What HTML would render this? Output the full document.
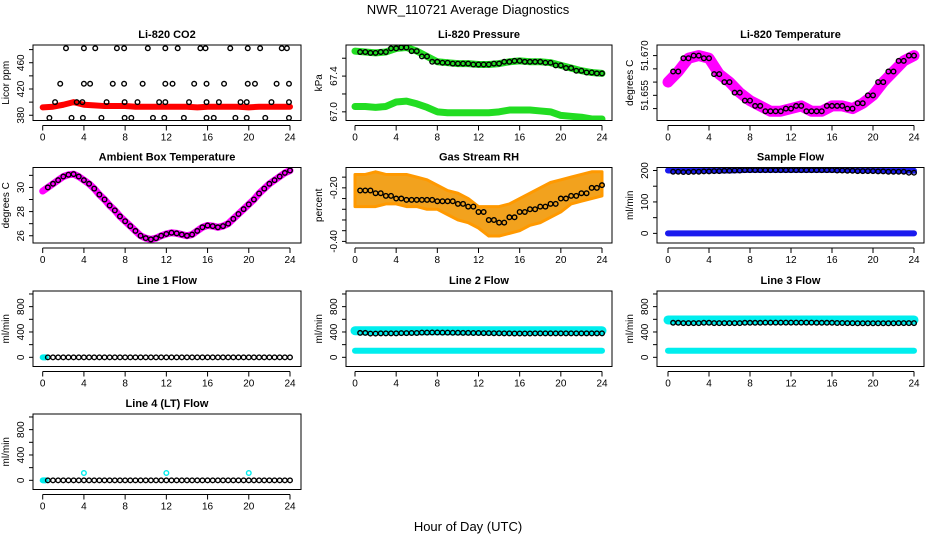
<!DOCTYPE html>
<html><head><meta charset="utf-8">
<style>
html,body{margin:0;padding:0;background:#fff;}
svg{display:block;font-family:"Liberation Sans",sans-serif;}
</style></head>
<body>
<svg id="chart" width="936" height="540" viewBox="0 0 936 540" xmlns="http://www.w3.org/2000/svg">
<text x="468" y="14" text-anchor="middle" font-size="13">NWR_110721  Average Diagnostics</text>
<text x="468" y="531" text-anchor="middle" font-size="13">Hour of Day (UTC)</text>
</svg>
<script>
// ---------- data ----------
const halfHours = [0,0.5,1,1.5,2,2.5,3,3.5,4,4.5,5,5.5,6,6.5,7,7.5,8,8.5,9,9.5,10,10.5,11,11.5,12,12.5,13,13.5,14,14.5,15,15.5,16,16.5,17,17.5,18,18.5,19,19.5,20,20.5,21,21.5,22,22.5,23,23.5,24];
const hours = [0,1,2,3,4,5,6,7,8,9,10,11,12,13,14,15,16,17,18,19,20,21,22,23,24];
const xTicks = [0,4,8,12,16,20,24];

const co2Band = [392,393,396,400,396,395,394,394,394,393,393,393,393,393,393,392,393,393,393,393,392,393,393,393,393];
const co2HighHours = [2.26,4.0,5.1,7.2,7.9,10.2,11.9,13.1,15.3,15.8,18.2,19.9,21.1,23.2,23.7];
const co2MidHours = [1.7,4.0,4.6,6.8,7.9,9.7,11.9,12.6,14.7,15.9,17.6,19.9,20.6,22.7,23.9];
const co2LowHours = [1.2,3.3,3.85,6.2,7.95,9.2,11.3,11.9,14.2,15.9,17.1,19.2,19.8,22.2,23.9];
const co2MinHours = [0.65,2.8,3.9,5.7,7.95,8.6,10.7,11.8,13.7,15.9,16.6,18.7,19.8,21.6,23.9];
const co2Levels = [482,428,400,376];

const pressUpper = [67.68,67.67,67.66,67.67,67.71,67.72,67.68,67.62,67.56,67.55,67.54,67.54,67.53,67.53,67.54,67.56,67.57,67.56,67.56,67.55,67.52,67.49,67.46,67.44,67.43];
const pressLower = [67.06,67.06,67.05,67.06,67.11,67.12,67.09,67.05,67.00,66.99,66.99,66.99,66.99,66.99,67.00,67.02,67.02,67.02,67.01,67.00,66.96,66.95,66.94,66.92,66.92];

const licorTemp = [51.660,51.664,51.669,51.670,51.669,51.663,51.660,51.656,51.653,51.651,51.649,51.649,51.650,51.651,51.649,51.649,51.651,51.651,51.650,51.652,51.655,51.660,51.664,51.668,51.670];

const ambientTemp = [29.7,30.0,30.3,30.6,30.9,31.05,31.1,30.9,30.6,30.3,29.9,29.4,29.0,28.5,28.1,27.6,27.2,26.8,26.4,26.0,25.8,25.7,25.8,26.0,26.15,26.25,26.2,26.1,26.0,26.1,26.4,26.7,26.85,26.8,26.7,26.8,27.0,27.4,27.8,28.2,28.6,29.0,29.5,29.9,30.3,30.6,30.9,31.2,31.4];

const rhMean = [-0.21,-0.21,-0.22,-0.23,-0.24,-0.245,-0.245,-0.245,-0.25,-0.25,-0.26,-0.27,-0.29,-0.32,-0.33,-0.31,-0.29,-0.28,-0.27,-0.26,-0.24,-0.23,-0.22,-0.20,-0.19];
const rhUpper = [-0.15,-0.15,-0.14,-0.15,-0.15,-0.15,-0.16,-0.17,-0.19,-0.21,-0.22,-0.24,-0.27,-0.27,-0.27,-0.26,-0.24,-0.22,-0.20,-0.18,-0.17,-0.16,-0.15,-0.14,-0.14];
const rhLower = [-0.27,-0.27,-0.27,-0.26,-0.26,-0.27,-0.27,-0.28,-0.28,-0.30,-0.32,-0.33,-0.35,-0.38,-0.38,-0.37,-0.36,-0.34,-0.33,-0.31,-0.29,-0.26,-0.25,-0.24,-0.23];

const sampleHigh = [200,200,200,200,200,200,200,201,202,202,202,202,202,202,202,202,202,202,202,201,201,200,200,200,199];
const sampleBlack = [197,196,195,196,197,198,199,200,201,201,201,201,201,201,201,201,201,200,199,198,198,197,196,196,193];
const sampleLow = [0,0,0,0,0,0,0,0,0,0,0,0,0,0,0,0,0,0,0,0,0,0,0,0,0];

const line1Flow = [0,0,0,0,0,0,0,0,0,0,0,0,0,0,0,0,0,0,0,0,0,0,0,0,0];
const line2High = [420,420,420,420,420,420,420,420,420,420,420,420,420,420,420,420,420,420,420,420,420,420,420,420,420];
const line2Black = [380,385,375,378,378,382,384,390,392,390,388,386,384,382,380,378,376,376,378,378,378,378,378,378,378];
const line2Low = [104,104,104,104,104,104,104,104,104,104,104,104,104,104,104,104,104,104,104,104,104,104,104,104,104];
const line3High = [590,590,590,590,590,590,590,590,590,590,590,590,590,590,590,590,590,590,590,590,590,590,590,590,590];
const line3Black = [540,545,540,540,545,540,540,540,545,545,548,548,548,548,548,545,545,542,540,538,538,538,538,540,540];
const line3Low = [104,104,104,104,104,104,104,104,104,104,104,104,104,104,104,104,104,104,104,104,104,104,104,104,104];
const line4Flow = [0,0,0,0,0,0,0,0,0,0,0,0,0,0,0,0,0,0,0,0,0,0,0,0,0];
const line4SpikeHours = [4,12,20];
const line4SpikeVals = [115,115,115];

// ---------- helpers ----------
const svg = document.getElementById('chart');
const NS = 'http://www.w3.org/2000/svg';
function mk(tag, attrs, parent){ const e=document.createElementNS(NS,tag); for(const k in attrs) e.setAttribute(k,attrs[k]); (parent||svg).appendChild(e); return e; }

const colLeft=[33,346,657], colRight=[301,612,924], colX0=[42.7,355,668], colX24=[290,602,914];
const rowTop=[45,167.5,291,414], H=75.5;

function panel(cfg){
  const c=cfg.col, r=cfg.row;
  const L=colLeft[c], R=colRight[c], T=rowTop[r], B=T+H;
  const g=mk('g',{});
  
  
  const xs=h=>colX0[c]+(colX24[c]-colX0[c])*h/24;
  const ys=v=>B-(v-cfg.ymin)/(cfg.ymax-cfg.ymin)*H;
  const t=mk('text',{x:(L+R)/2,y:T-7,'text-anchor':'middle','font-size':11,'font-weight':'bold'},g);
  t.textContent=cfg.title;
  
  
  const clip=mk('clipPath',{id:'clip'+c+r},g);
  mk('rect',{x:L,y:T,width:R-L,height:H},clip);
  const plot=mk('g',{'clip-path':'url(#clip'+c+r+')'},g);
  
  
  cfg.draw(plot,xs,ys);
  const box=mk('rect',{x:L,y:T,width:R-L,height:H,fill:'none',stroke:'#000','stroke-width':1},g);
  
  
  const xa=mk('g',{},g);
  
  
  mk('line',{x1:xs(0),x2:xs(24),y1:B+5,y2:B+5,stroke:'#000'},xa);
  xTicks.forEach(h=>{
    mk('line',{x1:xs(h),x2:xs(h),y1:B+5,y2:B+10,stroke:'#000'},xa);
    if(cfg.xlabels){ const tl=mk('text',{x:xs(h),y:B+20,'text-anchor':'middle','font-size':10},xa); tl.textContent=h;
      
       }
  });
  const ya=mk('g',{},g);
  
  
  mk('line',{x1:L,x2:L,y1:ys(cfg.ticks[0]),y2:ys(cfg.ticks[cfg.ticks.length-1]),stroke:'#000'},ya);
  cfg.ticks.forEach(v=>mk('line',{x1:L-4,x2:L,y1:ys(v),y2:ys(v),stroke:'#000'},ya));
  cfg.labels.forEach((lab,i)=>{
    const y=ys(cfg.labelVals[i]);
    const tl=mk('text',{x:L-9,y:y,'text-anchor':'middle','font-size':10,transform:'rotate(-90 '+(L-9)+' '+y+')'},ya);
    tl.textContent=lab;
    
    
  });
  const yt=mk('text',{x:L-24,y:(T+B)/2,'text-anchor':'middle','font-size':10,transform:'rotate(-90 '+(L-24)+' '+((T+B)/2)+')'},g);
  yt.textContent=cfg.ytitle;
  
  
}
function band(p,xs,ys,hx,vals,color,w,name){
  const pl=mk('polyline',{points:hx.map((h,i)=>xs(h)+','+ys(vals[i])).join(' '),fill:'none',stroke:color,'stroke-width':w,'stroke-linejoin':'round','stroke-linecap':'round'},p);
  
  
}
function circles(p,xs,ys,hx,vals,color,name,start){
  hx.forEach((h,i)=>{ if(start!==undefined && h<start) return;
    const ci=mk('circle',{cx:xs(h),cy:ys(vals[i]),r:2.3,fill:'none',stroke:color||'#000','stroke-width':1.4},p);
    
    
  });
}
function hourlyAt(arr){ return halfHours.map(h=>arr[Math.round(h)]); }

const flowTicks=[0,200,400,600,800,1000];

panel({name:'co2-panel',col:0,row:0,title:'Li-820 CO2',ytitle:'Licor ppm',ymin:372,ymax:487,ticks:[380,400,420,440,460,480],labels:['380','420','460'],labelVals:[380,420,460],xlabels:true,
 draw:(p,xs,ys)=>{ band(p,xs,ys,hours,co2Band,'#ff0000',6,'co2-band');
   [co2HighHours,co2MidHours,co2LowHours,co2MinHours].forEach((hh,k)=>circles(p,xs,ys,hh,hh.map(()=>co2Levels[k]),'#000','co2-point'));}});
panel({name:'pressure-panel',col:1,row:0,title:'Li-820 Pressure',ytitle:'kPa',ymin:66.903,ymax:67.748,ticks:[67.0,67.2,67.4,67.6],labels:['67.0','67.4'],labelVals:[67.0,67.4],xlabels:true,
 draw:(p,xs,ys)=>{ band(p,xs,ys,hours,pressUpper,'#22dd22',7,'pressure-band-upper'); band(p,xs,ys,hours,pressLower,'#22dd22',7,'pressure-band-lower');
   circles(p,xs,ys,halfHours,hourlyAt(pressUpper),'#000','pressure-point',0.5);}});
panel({name:'licor-temp-panel',col:2,row:0,title:'Li-820 Temperature',ytitle:'degrees C',ymin:51.6455,ymax:51.674,ticks:[51.650,51.655,51.660,51.665,51.670],labels:['51.655','51.670'],labelVals:[51.655,51.670],xlabels:true,
 draw:(p,xs,ys)=>{ band(p,xs,ys,hours,licorTemp,'#ff00ff',11,'licor-temp-band');
   circles(p,xs,ys,halfHours,hourlyAt(licorTemp),'#000','licor-temp-point',0.5);}});
panel({name:'ambient-temp-panel',col:0,row:1,title:'Ambient Box Temperature',ytitle:'degrees C',ymin:25.4,ymax:31.65,ticks:[26,27,28,29,30,31],labels:['26','28','30'],labelVals:[26,28,30],xlabels:true,
 draw:(p,xs,ys)=>{ band(p,xs,ys,halfHours,ambientTemp,'#ff00ff',7,'ambient-band');
   circles(p,xs,ys,halfHours,ambientTemp,'#000','ambient-point',0.5);}});
panel({name:'rh-panel',col:1,row:1,title:'Gas Stream RH',ytitle:'percent',ymin:-0.406,ymax:-0.124,ticks:[-0.40,-0.36,-0.32,-0.28,-0.24,-0.20,-0.16],labels:['-0.40','-0.20'],labelVals:[-0.40,-0.20],xlabels:true,
 draw:(p,xs,ys)=>{ const pts=hours.map((h,i)=>xs(h)+','+ys(rhUpper[i])).concat(hours.slice().reverse().map((h,j)=>{const i=hours.length-1-j;return xs(h)+','+ys(rhLower[i]);}));
   const pg=mk('polygon',{points:pts.join(' '),fill:'#f2a21e',stroke:'#ff9900','stroke-width':3,'stroke-linejoin':'round'},p);
   
   
   circles(p,xs,ys,hours,rhMean,'#000','rh-point',0.5);
   circles(p,xs,ys,hours.map(h=>h+0.5).slice(0,24),rhMean.slice(0,24),'#000','rh-point');}});
panel({name:'sample-flow-panel',col:2,row:1,title:'Sample Flow',ytitle:'ml/min',ymin:-30.6,ymax:209.5,ticks:[0,50,100,150,200],labels:['0','100','200'],labelVals:[0,100,200],xlabels:true,
 draw:(p,xs,ys)=>{ band(p,xs,ys,hours,sampleHigh,'#1a1aee',6,'sample-band-high'); band(p,xs,ys,hours,sampleLow,'#1a1aee',6,'sample-band-low');
   circles(p,xs,ys,halfHours,hourlyAt(sampleBlack),'#000','sample-point',0.5);}});
panel({name:'line1-flow-panel',col:0,row:2,title:'Line 1 Flow',ytitle:'ml/min',ymin:-145,ymax:1047,ticks:flowTicks,labels:['0','400','800'],labelVals:[0,400,800],xlabels:true,
 draw:(p,xs,ys)=>{ band(p,xs,ys,[0,0.3],[0,0],'#00eeee',6,'line1-band');
   circles(p,xs,ys,halfHours,hourlyAt(line1Flow),'#000','line1-point',0.5);}});
panel({name:'line2-flow-panel',col:1,row:2,title:'Line 2 Flow',ytitle:'ml/min',ymin:-145,ymax:1047,ticks:flowTicks,labels:['0','400','800'],labelVals:[0,400,800],xlabels:true,
 draw:(p,xs,ys)=>{ band(p,xs,ys,hours,line2High,'#00eeee',9,'line2-band-high'); band(p,xs,ys,hours,line2Low,'#00eeee',6,'line2-band-low');
   circles(p,xs,ys,halfHours,hourlyAt(line2Black),'#000','line2-point',0.5);}});
panel({name:'line3-flow-panel',col:2,row:2,title:'Line 3 Flow',ytitle:'ml/min',ymin:-145,ymax:1047,ticks:flowTicks,labels:['0','400','800'],labelVals:[0,400,800],xlabels:true,
 draw:(p,xs,ys)=>{ band(p,xs,ys,hours,line3High,'#00eeee',9,'line3-band-high'); band(p,xs,ys,hours,line3Low,'#00eeee',6,'line3-band-low');
   circles(p,xs,ys,halfHours,hourlyAt(line3Black),'#000','line3-point',0.5);}});
panel({name:'line4-flow-panel',col:0,row:3,title:'Line 4 (LT) Flow',ytitle:'ml/min',ymin:-145,ymax:1047,ticks:flowTicks,labels:['0','400','800'],labelVals:[0,400,800],xlabels:true,
 draw:(p,xs,ys)=>{ band(p,xs,ys,[0,0.3],[0,0],'#00eeee',6,'line4-band');
   circles(p,xs,ys,line4SpikeHours,line4SpikeVals,'#00eeee','line4-spike');
   circles(p,xs,ys,halfHours,hourlyAt(line4Flow),'#000','line4-point',0.5);}});
</script>
</body></html>
